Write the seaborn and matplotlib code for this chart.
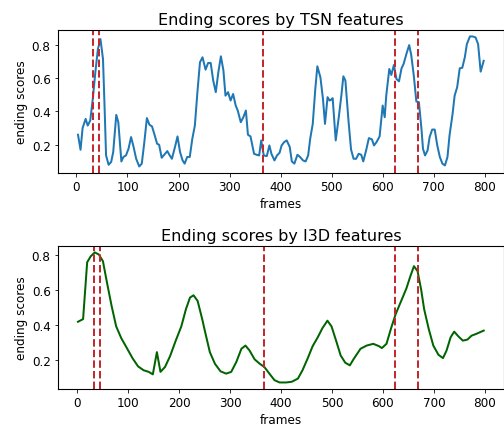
import matplotlib
matplotlib.use("Agg")
import matplotlib.pyplot as plt
import seaborn as sns
import pandas as pd

# ending scores, TSN features
tsn_frames = [3, 8, 12, 18, 22, 27, 32, 37, 42, 47, 52, 55, 58, 63, 68, 72, 78, 82, 88, 92,
              97, 102, 107, 112, 117, 123, 128, 133, 138, 143, 148, 153, 158, 162, 167, 172,
              178, 182, 187, 193, 198, 203, 208, 212, 217, 222, 227, 232, 237, 242, 247, 253,
              258, 263, 268, 273, 278, 283, 288, 292, 297, 302, 307, 312, 316, 322, 327, 332,
              336, 341, 348, 353, 358, 362, 367, 373, 378, 382, 388, 393, 398, 402, 407, 412,
              418, 422, 427, 433, 438, 444, 449, 454, 458, 463, 468, 472, 478, 483, 487, 492,
              496, 499, 502, 508, 514, 519, 523, 527, 533, 538, 543, 548, 553, 558, 562, 568,
              573, 579, 583, 588, 594, 600, 604, 607, 613, 617, 622, 627, 632, 637, 641, 647,
              652, 656, 661, 666, 671, 676, 679, 683, 688, 692, 697, 702, 707, 712, 717, 722,
              727, 731, 737, 741, 746, 751, 756, 761, 765, 771, 776, 782, 787, 792, 798]
tsn_scores = [0.26, 0.17, 0.30, 0.355, 0.315, 0.345, 0.475, 0.634, 0.773, 0.833, 0.713, 0.435,
              0.136, 0.08, 0.097, 0.156, 0.379, 0.335, 0.10, 0.127, 0.136, 0.176, 0.246, 0.186,
              0.116, 0.07, 0.087, 0.216, 0.36, 0.32, 0.31, 0.26, 0.206, 0.20, 0.122, 0.14,
              0.162, 0.14, 0.116, 0.186, 0.25, 0.156, 0.106, 0.087, 0.127, 0.127, 0.236, 0.315,
              0.515, 0.694, 0.724, 0.65, 0.69, 0.69, 0.584, 0.515, 0.634, 0.73, 0.644, 0.494,
              0.515, 0.465, 0.504, 0.435, 0.405, 0.335, 0.365, 0.405, 0.26, 0.25, 0.146, 0.14,
              0.136, 0.226, 0.136, 0.132, 0.196, 0.146, 0.106, 0.136, 0.152, 0.196, 0.216, 0.226,
              0.186, 0.10, 0.087, 0.14, 0.127, 0.106, 0.10, 0.136, 0.236, 0.325, 0.534, 0.67,
              0.604, 0.475, 0.325, 0.485, 0.465, 0.47, 0.479, 0.226, 0.365, 0.494, 0.61, 0.584,
              0.345, 0.172, 0.116, 0.116, 0.146, 0.14, 0.10, 0.172, 0.24, 0.232, 0.196, 0.216,
              0.25, 0.435, 0.365, 0.494, 0.654, 0.618, 0.678, 0.594, 0.58, 0.658, 0.684, 0.749,
              0.797, 0.737, 0.614, 0.459, 0.455, 0.296, 0.176, 0.136, 0.166, 0.246, 0.291, 0.291,
              0.196, 0.127, 0.087, 0.076, 0.127, 0.256, 0.385, 0.494, 0.545, 0.658, 0.661, 0.724,
              0.803, 0.849, 0.849, 0.843, 0.803, 0.638, 0.703]

# ending scores, I3D features
i3d_frames = [1, 11, 19, 26, 34, 42, 50, 58, 67, 76, 86, 97, 108, 119, 130, 140, 148, 156,
              163, 172, 182, 193, 204, 213, 221, 228, 236, 245, 250, 260, 270, 281, 292, 302,
              312, 322, 330, 338, 348, 358, 367, 377, 387, 397, 410, 421, 433, 442, 452, 462,
              472, 481, 491, 499, 508, 517, 526, 535, 543, 556, 568, 581, 592, 598, 607, 616,
              625, 635, 646, 654, 661, 668, 675, 681, 690, 699, 709, 718, 725, 733, 740, 748,
              757, 766, 774, 783, 798]
i3d_scores = [0.419, 0.434, 0.756, 0.79, 0.812, 0.80, 0.762, 0.64, 0.509, 0.393, 0.326, 0.27,
              0.213, 0.166, 0.144, 0.135, 0.121, 0.247, 0.135, 0.163, 0.225, 0.312, 0.393, 0.49,
              0.556, 0.569, 0.537, 0.434, 0.37, 0.247, 0.181, 0.138, 0.125, 0.135, 0.191, 0.266,
              0.284, 0.256, 0.206, 0.181, 0.163, 0.125, 0.088, 0.075, 0.075, 0.079, 0.097, 0.144,
              0.21, 0.281, 0.331, 0.382, 0.425, 0.393, 0.312, 0.228, 0.187, 0.172, 0.21, 0.266,
              0.284, 0.294, 0.281, 0.27, 0.294, 0.382, 0.462, 0.531, 0.607, 0.678, 0.734, 0.706,
              0.603, 0.49, 0.378, 0.284, 0.232, 0.213, 0.256, 0.331, 0.363, 0.337, 0.312, 0.318,
              0.34, 0.35, 0.369]

# ground-truth boundary frames (red dashed lines)
gt_frames = [33, 45, 366, 624, 669]

tsn = pd.DataFrame({"frames": tsn_frames, "ending scores": tsn_scores})
i3d = pd.DataFrame({"frames": i3d_frames, "ending scores": i3d_scores})

plt.rcParams["font.size"] = 12
plt.rcParams["axes.linewidth"] = 1.1

fig, axes = plt.subplots(2, 1, figsize=(7, 5.958), dpi=72)
plt.subplots_adjust(left=0.1145, right=1.0, top=0.928, bottom=0.091, hspace=0.51)

panels = [(tsn, "#1f77b4", "Ending scores by TSN features"),
          (i3d, "darkgreen", "Ending scores by I3D features")]
for ax, (df, color, title) in zip(axes, panels):
    sns.lineplot(data=df, x="frames", y="ending scores", color=color, linewidth=2, ax=ax)
    for gt in gt_frames:
        ax.axvline(gt, color="#c3292e", linestyle="--", linewidth=2)
    ax.set_title(title, fontsize=16)
    ax.set_xlabel("frames", fontsize=12)
    ax.set_ylabel("ending scores", fontsize=12)
    ax.set_xticks([0, 100, 200, 300, 400, 500, 600, 700, 800])
    ax.set_yticks([0.2, 0.4, 0.6, 0.8])
    ax.tick_params(labelsize=12)

fig.savefig("out.png", dpi=72)
